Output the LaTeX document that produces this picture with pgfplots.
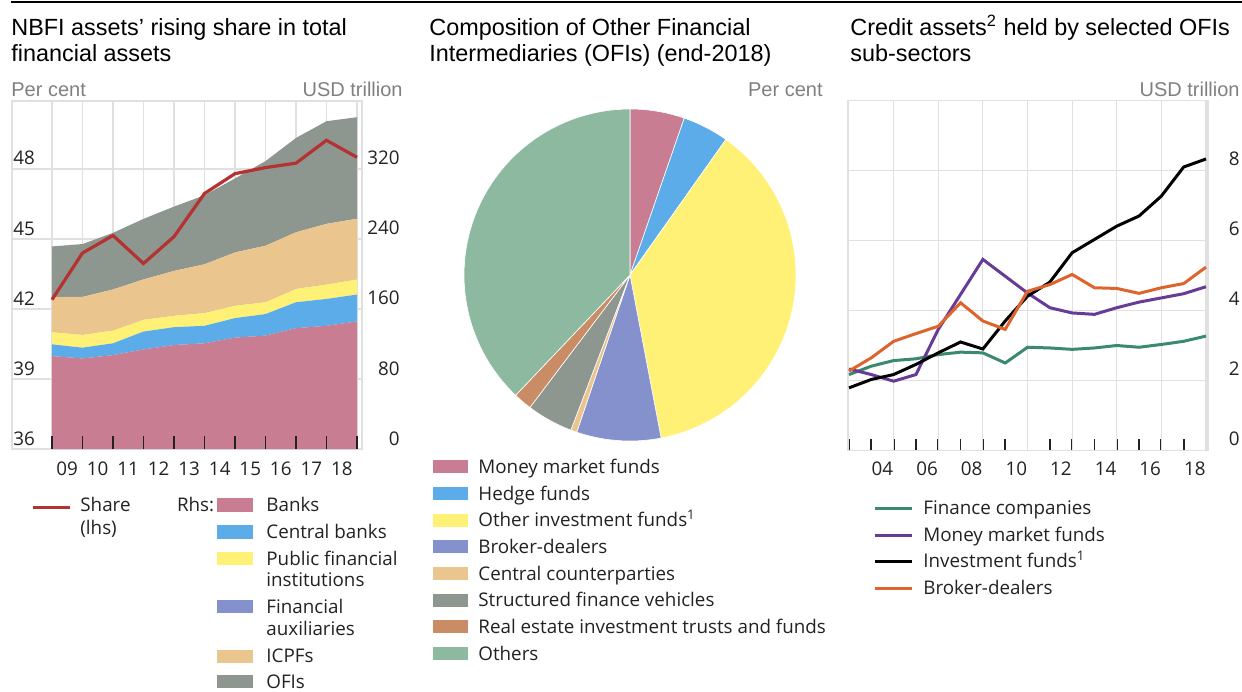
\documentclass[border=0pt]{standalone}
\usepackage{pgfplots}
\pgfplotsset{compat=1.18}
\usepackage{pgfplotstable}
\usepackage{fontspec}
\setmainfont{Liberation Sans}
\newfontfamily\seg{Open Sans}

\definecolor{cBank}{RGB}{201,125,146}
\definecolor{cCB}{RGB}{91,172,232}
\definecolor{cPub}{RGB}{255,241,118}
\definecolor{cFA}{RGB}{133,145,205}
\definecolor{cICPF}{RGB}{235,197,142}
\definecolor{cOFI}{RGB}{142,150,144}
\definecolor{cShare}{RGB}{180,50,50}
\definecolor{cREIT}{RGB}{201,140,100}
\definecolor{cOth}{RGB}{141,185,160}
\definecolor{cFin}{RGB}{58,138,110}
\definecolor{cMMF}{RGB}{102,60,150}
\definecolor{cBD}{RGB}{222,100,45}
\definecolor{cGrid}{RGB}{224,224,224}
\definecolor{cUnit}{RGB}{128,128,128}
\definecolor{cTxt}{RGB}{34,34,34}

\pgfplotstableread{
year banks cb pub fa icpf ofi
2008 106.2 13.4 13.9 0 40.3 57.7
2009 103.5 12.3 14.6 0 43.4 60.4
2010 107.3 13.5 14.6 0 46.9 64.7
2011 113.8 20.4 13.5 0 46.1 69.2
2012 118.8 20.4 13.1 0 51.2 73.5
2013 120.8 20.0 14.6 0 55.7 78.9
2014 127.3 22.3 14.2 0 60.8 84.6
2015 129.6 24.6 13.5 0 64.6 96.7
2016 138.1 29.6 15.3 0 64.7 107.8
2017 140.8 30.7 16.5 0 69.3 117.3
2018 145.8 30.7 17.3 0 69.3 116.1
}\stacktable

\pgfplotstableread{
year share
2008 42.4
2009 44.4
2010 45.15
2011 43.95
2012 45.1
2013 46.95
2014 47.8
2015 48.06
2016 48.25
2017 49.23
2018 48.5
}\sharetable

\pgfplotstableread{
year fin mmf inv bd
2002 2.17 2.33 1.79 2.27
2003 2.41 2.17 2.03 2.65
2004 2.57 1.98 2.17 3.12
2005 2.62 2.17 2.46 3.34
2006 2.74 3.46 2.79 3.55
2007 2.81 4.46 3.10 4.22
2008 2.79 5.46 2.90 3.70
2009 2.50 4.98 3.70 3.46
2010 2.95 4.50 4.41 4.55
2011 2.93 4.08 4.81 4.74
2012 2.89 3.93 5.65 5.03
2013 2.93 3.89 6.03 4.65
2014 3.00 4.08 6.41 4.63
2015 2.95 4.24 6.70 4.49
2016 3.03 4.36 7.27 4.65
2017 3.12 4.48 8.10 4.77
2018 3.27 4.68 8.33 5.24
}\credittable

\pgfplotstableread{
sector pct
MMF 5.3
HF 4.5
OIF 37.2
BD 8.2
CCP 0.6
SFV 4.5
REIT 1.8
Others 37.9
}\pietable

\newcommand\pieslice[2]{%
  \pgfplotstablegetelem{#1}{pct}\of\pietable
  \pgfmathsetmacro\pieS{90-3.6*\piecum}%
  \pgfmathsetmacro\piecum{\piecum+\pgfplotsretval}%
  \pgfmathsetmacro\pieE{90-3.6*\piecum}%
  \edef\pietmp{\noexpand\addplot[fill=#2, draw=white, line width=0.3pt, domain=\pieE:\pieS, samples=60] ({cos(x)},{sin(x)}) -- (axis cs:0,0) -- cycle;}%
  \pietmp
}

\pgfplotsset{
  mytick/.style={tick label style={font=\seg\fontsize{9.4}{11}\selectfont, text=cTxt, inner sep=0pt}, /pgf/number format/assume math mode=true},
}

\tikzset{
  ttl/.style={anchor=base west, inner sep=0pt, font=\fontsize{11.7}{14}\selectfont},
  unit/.style={inner sep=0pt, text=cUnit, font=\fontsize{10}{12}\selectfont},
  leg/.style={anchor=base west, inner sep=0pt, text=cTxt, font=\seg\fontsize{9.4}{11}\selectfont},
}
\newcommand\lsq[4]{\fill[#4] (#1,#3) rectangle (#2,#3+6.6pt);}

\begin{document}
\begin{tikzpicture}
\path[use as bounding box] (0,0) rectangle (621pt,-345.5pt);
\draw[line width=1pt] (5.5pt,-0.75pt) -- (621pt,-0.75pt);

% titles
\node[ttl] at (5.5pt,-17.5pt) {NBFI assets’ rising share in total};
\node[ttl] at (5.5pt,-30.5pt) {financial assets};
\node[ttl] at (214.5pt,-17.5pt) {Composition of Other Financial};
\node[ttl] at (214.5pt,-30.5pt) {Intermediaries (OFIs) (end-2018)};
\node[ttl] at (425pt,-17.5pt) {Credit assets\textsuperscript{2} held by selected OFIs};
\node[ttl] at (425pt,-30.5pt) {sub-sectors};

% units
\node[unit, anchor=base west] at (5.5pt,-48.25pt) {Per cent};
\node[unit, anchor=base east] at (201.5pt,-48.25pt) {USD trillion};
\node[unit, anchor=base east] at (411.5pt,-48.25pt) {Per cent};
\node[unit, anchor=base east] at (620pt,-48.25pt) {USD trillion};

% ---------- left panel: stacked areas (rhs)
\begin{axis}[
  at={(6pt,-50.5pt)}, anchor=north west, scale only axis, width=175pt, height=174pt,
  xmin=2006.689, xmax=2018.164, ymin=0, ymax=397.7,
  stack plots=y,
  xtick={2008,2009,...,2018}, xticklabels={},
  ytick={0,80,160,240,320}, yticklabel pos=right,
  major tick length=0pt,
  grid=major, grid style={cGrid, line width=0.6pt},
  axis line style={draw=cGrid, line width=0.6pt},
  mytick,
  yticklabel style={anchor=base east, xshift=19pt, yshift=2pt},
]
\addplot[fill=cBank, draw=none] table[x=year,y=banks]{\stacktable} \closedcycle;
\addplot[fill=cCB, draw=none] table[x=year,y=cb]{\stacktable} \closedcycle;
\addplot[fill=cPub, draw=none] table[x=year,y=pub]{\stacktable} \closedcycle;
\addplot[fill=cFA, draw=none] table[x=year,y=fa]{\stacktable} \closedcycle;
\addplot[fill=cICPF, draw=none] table[x=year,y=icpf]{\stacktable} \closedcycle;
\addplot[fill=cOFI, draw=none] table[x=year,y=ofi]{\stacktable} \closedcycle;
\end{axis}

% ---------- left panel: share line (lhs)
\begin{axis}[
  at={(6pt,-50.5pt)}, anchor=north west, scale only axis, width=175pt, height=174pt,
  xmin=2006.689, xmax=2018.164, ymin=36, ymax=50.914,
  axis line style={draw=none},
  xtick={2008.5,2009.5,2010.5,2011.5,2012.5,2013.5,2014.5,2015.5,2016.5,2017.5},
  xticklabels={09,10,11,12,13,14,15,16,17,18},
  minor xtick={2008,2009,...,2018},
  major tick length=0pt, minor tick length=6.5pt, tick align=inside,
  xtick pos=bottom, ytick pos=left,
  minor tick style={line width=0.9pt, color=cTxt},
  ytick={36,39,42,45,48},
  mytick,
  xticklabel style={anchor=base, yshift=-13pt},
  yticklabel style={anchor=base west, xshift=0.5pt, yshift=2pt},
]
\addplot[cShare, line width=1.6pt] table[x=year,y=share]{\sharetable};
\end{axis}

% ---------- middle panel: pie
\begin{axis}[
  at={(315pt,-137.5pt)}, anchor=center, scale only axis, width=166pt, height=166pt,
  xmin=-1, xmax=1, ymin=-1, ymax=1, hide axis, clip=false,
]
\def\piecum{0}
\pieslice{0}{cBank}
\pieslice{1}{cCB}
\pieslice{2}{cPub}
\pieslice{3}{cFA}
\pieslice{4}{cICPF}
\pieslice{5}{cOFI}
\pieslice{6}{cREIT}
\pieslice{7}{cOth}
\end{axis}

% ---------- right panel
\begin{axis}[
  at={(424pt,-50.25pt)}, anchor=north west, scale only axis, width=180pt, height=175pt,
  xmin=2001.955, xmax=2018.09, ymin=0, ymax=10,
  xtick={2003.5,2005.5,2007.5,2009.5,2011.5,2013.5,2015.5,2017.5},
  xticklabels={04,06,08,10,12,14,16,18},
  minor xtick={2002,2003,...,2018},
  extra x ticks={2004,2006,2008,2010,2012,2014,2016,2018}, extra x tick labels={},
  extra x tick style={grid=major},
  major tick length=0pt, minor tick length=6pt, tick align=inside,
  xtick pos=bottom,
  minor tick style={line width=0.9pt, color=cTxt},
  ytick={0,2,4,6,8}, ymajorgrids, yticklabel pos=right,
  grid style={cGrid, line width=0.6pt},
  axis line style={draw=cGrid, line width=0.6pt},
  mytick,
  xticklabel style={anchor=base, yshift=-12.5pt},
  yticklabel style={anchor=base east, xshift=16pt, yshift=2.5pt},
]
\addplot[cFin, line width=1.5pt] table[x=year,y=fin]{\credittable};
\addplot[cMMF, line width=1.5pt] table[x=year,y=mmf]{\credittable};
\addplot[black, line width=1.5pt] table[x=year,y=inv]{\credittable};
\addplot[cBD, line width=1.5pt] table[x=year,y=bd]{\credittable};
\end{axis}

% ---------- left legend
\draw[cShare, line width=1.6pt] (16.5pt,-253.7pt) -- (35pt,-253.7pt);
\node[leg] at (40pt,-255.75pt) {Share};
\node[leg] at (40pt,-267pt) {(lhs)};
\node[leg] at (88.3pt,-255.75pt) {Rhs:};
\lsq{108.6pt}{126.6pt}{-255.75pt}{cBank}
\node[leg] at (133pt,-255.75pt) {Banks};
\lsq{108.6pt}{126.6pt}{-269.3pt}{cCB}
\node[leg] at (133pt,-269.3pt) {Central banks};
\lsq{108.6pt}{126.6pt}{-282.7pt}{cPub}
\node[leg] at (133pt,-282.7pt) {Public financial};
\node[leg] at (133pt,-293.2pt) {institutions};
\lsq{108.6pt}{126.6pt}{-306.6pt}{cFA}
\node[leg] at (133pt,-306.6pt) {Financial};
\node[leg] at (133pt,-317.9pt) {auxiliaries};
\lsq{108.6pt}{126.6pt}{-331.4pt}{cICPF}
\node[leg] at (133pt,-331.4pt) {ICPFs};
\lsq{108.6pt}{126.6pt}{-344pt}{cOFI}
\node[leg] at (133pt,-344pt) {OFIs};

% ---------- middle legend
\lsq{216.5pt}{234pt}{-236.65pt}{cBank}
\node[leg] at (239pt,-236.65pt) {Money market funds};
\lsq{216.5pt}{234pt}{-250pt}{cCB}
\node[leg] at (239pt,-250pt) {Hedge funds};
\lsq{216.5pt}{234pt}{-263.35pt}{cPub}
\node[leg] at (239pt,-263.35pt) {Other investment funds\textsuperscript{1}};
\lsq{216.5pt}{234pt}{-276.65pt}{cFA}
\node[leg] at (239pt,-276.65pt) {Broker-dealers};
\lsq{216.5pt}{234pt}{-290pt}{cICPF}
\node[leg] at (239pt,-290pt) {Central counterparties};
\lsq{216.5pt}{234pt}{-303.35pt}{cOFI}
\node[leg] at (239pt,-303.35pt) {Structured finance vehicles};
\lsq{216.5pt}{234pt}{-316.65pt}{cREIT}
\node[leg] at (239pt,-316.65pt) {Real estate investment trusts and funds};
\lsq{216.5pt}{234pt}{-330pt}{cOth}
\node[leg] at (239pt,-330pt) {Others};

% ---------- right legend
\draw[cFin, line width=1.5pt] (437.5pt,-254.15pt) -- (456pt,-254.15pt);
\node[leg] at (461.5pt,-257.15pt) {Finance companies};
\draw[cMMF, line width=1.5pt] (437.5pt,-267.5pt) -- (456pt,-267.5pt);
\node[leg] at (461.5pt,-270.5pt) {Money market funds};
\draw[black, line width=1.5pt] (437.5pt,-280.85pt) -- (456pt,-280.85pt);
\node[leg] at (461.5pt,-283.85pt) {Investment funds\textsuperscript{1}};
\draw[cBD, line width=1.5pt] (437.5pt,-294.15pt) -- (456pt,-294.15pt);
\node[leg] at (461.5pt,-297.15pt) {Broker-dealers};
\end{tikzpicture}
\end{document}
